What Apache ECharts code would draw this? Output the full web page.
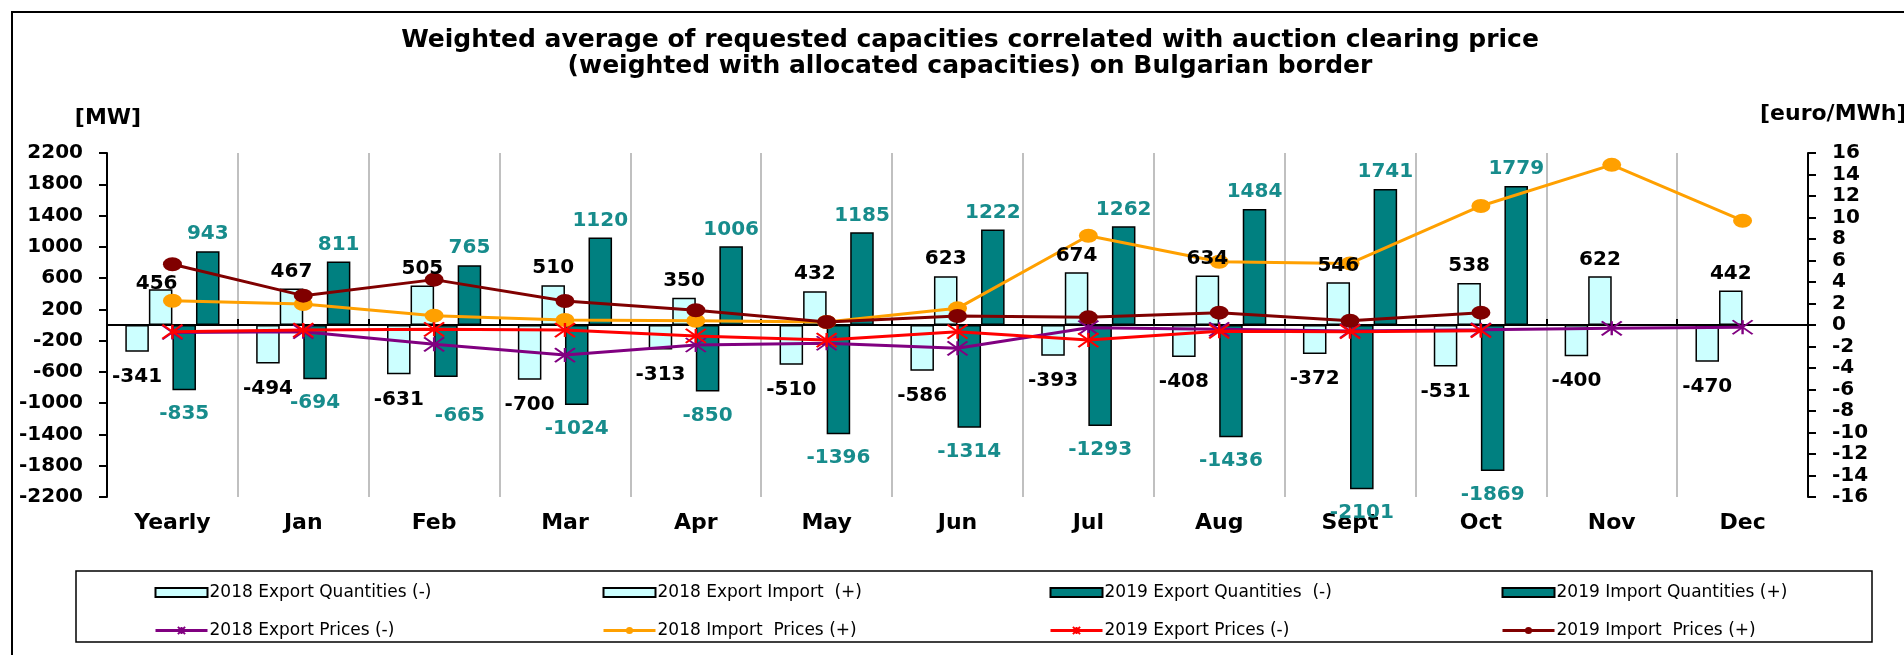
<!DOCTYPE html>
<html>
<head>
<meta charset="utf-8">
<script src="https://cdn.jsdelivr.net/npm/echarts@6/dist/echarts.min.js"></script>
<style>
  html, body { margin: 0; padding: 0; background: #fff; }
  #main { width: 1904px; height: 655px; }
</style>
</head>
<body>
<div id="main"></div>
<script>
// categories (months)
var months = ['Yearly', 'Jan', 'Feb', 'Mar', 'Apr', 'May', 'Jun', 'Jul', 'Aug', 'Sept', 'Oct', 'Nov', 'Dec'];

// quantities [MW]
var exp2018 = [-341, -494, -631, -700, -313, -510, -586, -393, -408, -372, -531, -400, -470];
var imp2018 = [456, 467, 505, 510, 350, 432, 623, 674, 634, 546, 538, 622, 442];
var exp2019 = [-835, -694, -665, -1024, -850, -1396, -1314, -1293, -1436, -2101, -1869, '-', '-'];
var imp2019 = [943, 811, 765, 1120, 1006, 1185, 1222, 1262, 1484, 1741, 1779, '-', '-'];

// prices [euro/MWh]
var expPrice2018 = [-0.7, -0.62, -1.8, -2.8, -1.86, -1.7, -2.17, -0.25, -0.4, -0.55, -0.45, -0.31, -0.21];
var impPrice2018 = [2.26, 1.95, 0.87, 0.46, 0.4, 0.28, 1.55, 8.3, 5.89, 5.73, 11.07, 14.9, 9.7];
var expPrice2019 = [-0.62, -0.47, -0.4, -0.47, -1.02, -1.4, -0.62, -1.4, -0.59, -0.62, -0.53, '-', '-'];
var impPrice2019 = [5.65, 2.73, 4.22, 2.23, 1.37, 0.28, 0.84, 0.71, 1.15, 0.4, 1.15, '-', '-'];

var FONT = 'DejaVu Sans';
var TEAL = '#008080';
var TEAL_TXT = '#178c8c';
var CROSS = 'path://M0,0L20,14M20,0L0,14M10,0L10,14';

var chart = echarts.init(document.getElementById('main'));

// a few labels were nudged by hand in the original
function nudge(values, idx, offset) {
    return values.map(function(v, i) {
        return i === idx ? { value: v, label: { offset: offset } } : v;
    });
}

function barSeries(name, data, color) {
    return {
        name: name,
        type: 'bar',
        data: data,
        barGap: '0%',
        barCategoryGap: '28%',
        itemStyle: { color: color, borderColor: '#000', borderWidth: 1.5 },
        z: 2
    };
}

// transparent copies on a hidden axis, so the value labels sit above the price lines
function labelSeries(data, pos, color, dist) {
    return {
        type: 'bar',
        xAxisIndex: 2,
        data: data,
        barGap: '0%',
        barCategoryGap: '28%',
        silent: true,
        itemStyle: { color: 'rgba(0,0,0,0)', borderWidth: 0 },
        label: {
            show: true,
            position: pos,
            distance: dist,
            color: color,
            fontFamily: FONT,
            fontWeight: 'bold',
            fontSize: 20
        },
        z: 10
    };
}

function lineSeries(name, data, color, symbol, z) {
    var cross = symbol === CROSS;
    return {
        name: name,
        type: 'line',
        yAxisIndex: 1,
        data: data,
        symbol: symbol,
        symbolSize: cross ? [20, 14] : [19, 14],
        lineStyle: { color: color, width: 3 },
        itemStyle: { color: color, borderColor: color, borderWidth: cross ? 2 : 0 },
        z: z
    };
}

function legendCol(left, barName, lineName) {
    return {
        orient: 'vertical',
        left: left,
        top: 579,
        itemWidth: 52,
        itemHeight: 9,
        itemGap: 21,
        data: [{ name: barName, icon: 'rect' }, lineName],
        lineStyle: { width: 3 },
        textStyle: { fontFamily: FONT, fontSize: 17, color: '#000', padding: [0, 0, 0, -3] }
    };
}

var option = {
    animation: false,
    backgroundColor: '#fff',
    title: {
        text: 'Weighted average of requested capacities correlated with auction clearing price\n(weighted with allocated capacities) on Bulgarian border',
        left: 965,
        top: 22,
        textAlign: 'center',
        textStyle: { fontFamily: FONT, fontWeight: 'bold', fontSize: 25, lineHeight: 26, color: '#000' }
    },
    graphic: [
        { type: 'rect', shape: { x: 12, y: 12, width: 2000, height: 1000 }, style: { fill: 'none', stroke: '#000', lineWidth: 2 }, silent: true },
        { type: 'rect', shape: { x: 76, y: 571, width: 1796, height: 71 }, style: { fill: 'none', stroke: '#000', lineWidth: 1.5 }, silent: true },
        { type: 'text', x: 108, y: 118, style: { text: '[MW]', fontFamily: FONT, fontWeight: 'bold', fontSize: 22, fill: '#000', align: 'center', verticalAlign: 'middle' } },
        { type: 'text', x: 1760, y: 114, style: { text: '[euro/MWh]', fontFamily: FONT, fontWeight: 'bold', fontSize: 22, fill: '#000', align: 'left', verticalAlign: 'middle' } }
    ],
    legend: [
        legendCol(149, '2018 Export Quantities (-)', '2018 Export Prices (-)'),
        legendCol(597, '2018 Export Import  (+)', '2018 Import  Prices (+)'),
        legendCol(1044, '2019 Export Quantities  (-)', '2019 Export Prices (-)'),
        legendCol(1496, '2019 Import Quantities (+)', '2019 Import  Prices (+)')
    ],
    grid: { left: 107, right: 96, top: 153, bottom: 158 },
    xAxis: [
        {
            type: 'category',
            data: months,
            position: 'bottom',
            axisLine: { show: false, onZero: false },
            axisTick: { show: false },
            splitLine: { show: true, interval: 0, lineStyle: { color: '#c0c0c0', width: 2 } },
            axisLabel: { interval: 0, margin: 15, color: '#000', fontFamily: FONT, fontWeight: 'bold', fontSize: 22 }
        },
        {
            // zero line with the small boundary ticks
            type: 'category',
            data: months,
            position: 'top',
            axisLine: { show: true, onZero: true, onZeroAxisIndex: 0, lineStyle: { color: '#000', width: 2 } },
            axisTick: { show: true, interval: 0, inside: false, length: 6, lineStyle: { color: '#000', width: 2 } },
            axisLabel: { show: false },
            splitLine: { show: false }
        },
        {
            type: 'category',
            data: months,
            show: false
        }
    ],
    yAxis: [
        {
            type: 'value',
            min: -2200,
            max: 2200,
            interval: 400,
            axisLine: { show: true, onZero: false, lineStyle: { color: '#000', width: 2 } },
            axisTick: { show: true, length: 8, lineStyle: { color: '#000', width: 2 } },
            splitLine: { show: false },
            axisLabel: {
                margin: 24, color: '#000', fontFamily: FONT, fontWeight: 'bold', fontSize: 20,
                formatter: function(v) { return String(v); }
            }
        },
        {
            type: 'value',
            min: -16,
            max: 16,
            interval: 2,
            position: 'right',
            axisLine: { show: true, onZero: false, lineStyle: { color: '#000', width: 2 } },
            axisTick: { show: true, length: 8, lineStyle: { color: '#000', width: 2 } },
            splitLine: { show: false },
            axisLabel: { margin: 24, color: '#000', fontFamily: FONT, fontWeight: 'bold', fontSize: 20 }
        }
    ],
    series: [
        barSeries('2018 Export Quantities (-)', exp2018, '#ccffff'),
        barSeries('2018 Export Import  (+)', imp2018, '#ccffff'),
        barSeries('2019 Export Quantities  (-)', exp2019, TEAL),
        barSeries('2019 Import Quantities (+)', imp2019, TEAL),

        lineSeries('2018 Export Prices (-)', expPrice2018, '#800080', CROSS, 5),
        lineSeries('2018 Import  Prices (+)', impPrice2018, '#ffa000', 'circle', 5),
        lineSeries('2019 Export Prices (-)', expPrice2019, '#ff0000', CROSS, 6),
        lineSeries('2019 Import  Prices (+)', impPrice2019, '#800000', 'circle', 6),

        labelSeries(exp2018, 'bottom', '#000', 15),
        labelSeries(nudge(imp2018, 0, [-4, 11]), 'top', '#000', 7),
        labelSeries(nudge(exp2019, 2, [14, 15]), 'bottom', TEAL_TXT, 14),
        labelSeries(imp2019, 'top', TEAL_TXT, 7)
    ]
};

chart.setOption(option);
</script>
</body>
</html>
